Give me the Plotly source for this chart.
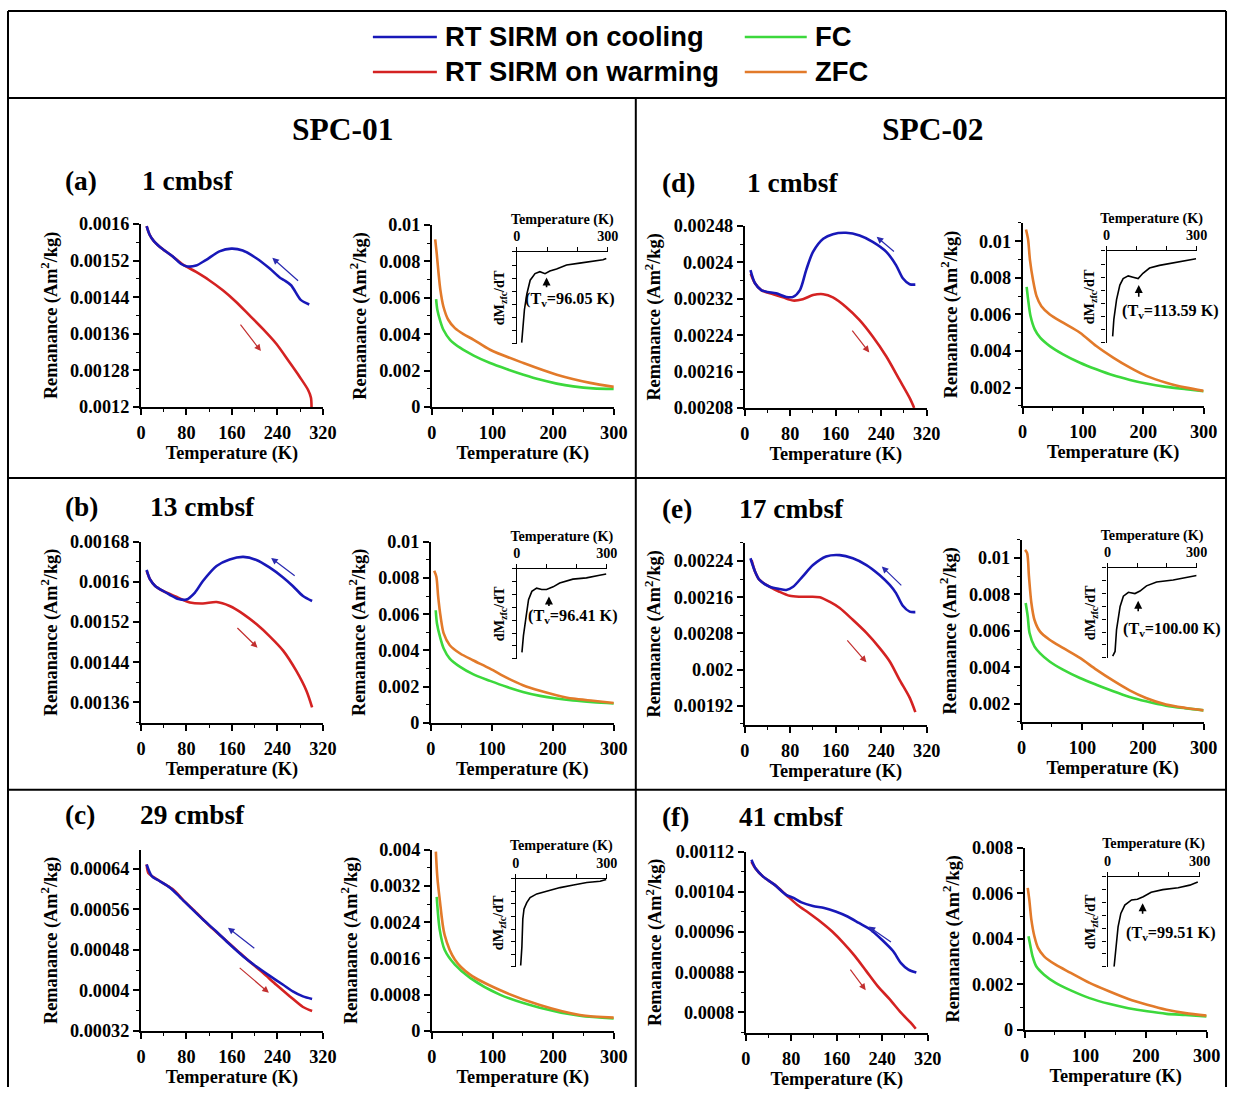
import plotly.graph_objects as go

W, H = 1241, 1097          # figure size = reference picture size
# measured placement of the figure inside the final photo: out = S * fig + OFF
SX, SY = 0.985, 0.982
OX, OY = 5.0, 10.0
FS = 1 / SX                # font compensation
SERIF = "Liberation Serif, Times New Roman, DejaVu Serif, serif"
SANS_N = "Liberation Sans Narrow, Arial Narrow, Liberation Sans, Arial, sans-serif"
BLUE, RED, GREEN, ORANGE = "#1818b8", "#d42222", "#3cd83c", "#e27a2a"

# ---------------- data ----------------
LEGEND_NAMES = ["RT SIRM on cooling", "RT SIRM on warming", "FC", "ZFC"]
CORE_TITLES = ["SPC-01", "SPC-02"]
PANEL_LETTERS = ["(a)", "(b)", "(c)", "(d)", "(e)", "(f)"]
PANEL_DEPTHS = ["1 cmbsf", "13 cmbsf", "29 cmbsf", "1 cmbsf", "17 cmbsf", "41 cmbsf"]
TV_VALUES = [96.05, 96.41, None, 113.59, 100.00, 99.51]

# (a) SPC-01 1 cmbsf
A_COOL_T = [296, 281, 264, 252, 244, 226, 203, 179, 159, 138, 114, 97, 82, 70, 56, 38, 23, 15, 10]
A_COOL_M = [0.001424, 0.001434, 0.001466, 0.001477, 0.001483, 0.001503, 0.001525, 0.001542, 0.001546, 0.001540,
            0.001521, 0.001509, 0.001507, 0.001513, 0.001529, 0.001545, 0.001562, 0.001577, 0.001595]
A_WARM_T = [10, 15, 23, 38, 56, 73, 97, 120, 144, 167, 191, 214, 238, 261, 279, 294, 299, 300]
A_WARM_M = [0.001595, 0.001577, 0.001562, 0.001545, 0.001529, 0.001512, 0.001495, 0.001477, 0.001455, 0.00143,
            0.0014, 0.001371, 0.001338, 0.001298, 0.001266, 0.001237, 0.00122, 0.0012]
A_ZFC_T = [5.5, 8, 11, 14, 19, 27, 38, 52, 69, 96, 151, 206, 261, 300]
A_ZFC_M = [0.00921, 0.00844, 0.00735, 0.00643, 0.00552, 0.00479, 0.00433, 0.0040, 0.00369, 0.00314, 0.00241,
           0.00177, 0.00132, 0.0011]
A_FC_T = [7, 9, 14, 19, 30, 47, 69, 96, 123, 151, 178, 206, 233, 266, 300]
A_FC_M = [0.00592, 0.00534, 0.0047, 0.00424, 0.00369, 0.00324, 0.00282, 0.00241, 0.00208, 0.00177, 0.0015,
          0.00128, 0.00113, 0.00102, 0.00099]
A_DER_T = [16, 20, 25, 33, 44, 60, 76, 93, 109, 131, 164, 207, 251, 284, 295]
A_DER_V = [0.1, 1.3, 2.6, 3.8, 4.85, 5.35, 5.5, 5.35, 5.55, 5.7, 6.0, 6.15, 6.3, 6.4, 6.5]

# (b) SPC-01 13 cmbsf
B_COOL_T = [301, 285, 267, 250, 226, 203, 180, 156, 133, 109, 95, 80, 66, 50, 39, 25, 16, 10]
B_COOL_M = [0.001562, 0.001572, 0.001592, 0.001609, 0.001629, 0.001644, 0.00165, 0.001645, 0.001632, 0.001602,
            0.001579, 0.001565, 0.001566, 0.001575, 0.001582, 0.001592, 0.001605, 0.001624]
B_WARM_T = [10, 16, 25, 39, 63, 86, 109, 133, 156, 180, 203, 226, 250, 273, 291, 301]
B_WARM_M = [0.001622, 0.001605, 0.001592, 0.001582, 0.00157, 0.001559, 0.001557, 0.00156, 0.001552, 0.001536,
            0.001516, 0.001492, 0.001463, 0.001423, 0.001383, 0.00135]
B_ZFC_T = [5.5, 9, 12, 16, 21, 31, 48, 69, 97, 124, 151, 179, 206, 233, 266, 300]
B_ZFC_M = [0.0084, 0.00807, 0.00696, 0.00586, 0.00494, 0.00429, 0.00383, 0.00346, 0.003, 0.0025, 0.00208,
           0.00177, 0.00153, 0.00134, 0.00122, 0.0011]
B_FC_T = [8, 10, 15, 21, 31, 48, 69, 97, 124, 151, 179, 206, 233, 266, 300]
B_FC_M = [0.00622, 0.00549, 0.00475, 0.00411, 0.00355, 0.00309, 0.00269, 0.00232, 0.00199, 0.00171, 0.00149,
          0.00134, 0.00123, 0.00114, 0.00107]
B_DER_T = [17, 22, 31, 39, 50, 66, 83, 99, 121, 143, 187, 232, 276, 298]
B_DER_V = [0.5, 1.8, 3.3, 4.6, 5.25, 5.5, 5.4, 5.4, 5.6, 5.9, 6.2, 6.3, 6.5, 6.6]

# (c) SPC-01 29 cmbsf
C_COOL_T = [301, 285, 267, 250, 226, 203, 180, 156, 133, 109, 86, 68, 51, 33, 19, 10]
C_COOL_M = [0.000383, 0.000388, 0.000398, 0.000411, 0.000429, 0.000447, 0.000467, 0.000491, 0.000516, 0.00054,
            0.000565, 0.000585, 0.000603, 0.000616, 0.000626, 0.000649]
C_WARM_T = [10, 13, 22, 39, 57, 74, 98, 121, 145, 168, 191, 215, 238, 262, 285, 301]
C_WARM_M = [0.000649, 0.000632, 0.000624, 0.000612, 0.000599, 0.000579, 0.000553, 0.000527, 0.000503, 0.00048,
            0.000457, 0.000434, 0.000411, 0.000388, 0.000367, 0.000359]
C_ZFC_T = [6.6, 9, 13, 21, 38, 63, 112, 178, 244, 300]
C_ZFC_M = [0.00396, 0.0034, 0.0029, 0.00212, 0.00157, 0.00124, 0.0009, 0.00057, 0.00035, 0.00029]
C_FC_T = [8, 13, 21, 38, 63, 112, 178, 244, 300]
C_FC_M = [0.00296, 0.00223, 0.00179, 0.00146, 0.00117, 0.0008, 0.00051, 0.00033, 0.00027]
C_DER_T = [16, 20, 23, 27, 36, 47, 69, 102, 146, 190, 234, 278, 298]
C_DER_V = [0.1, 1.6, 3.8, 4.6, 5.1, 5.5, 5.8, 6.0, 6.3, 6.5, 6.7, 6.8, 6.95]

# (d) SPC-02 1 cmbsf
D_COOL_T = [300, 290, 278, 266, 249, 225, 202, 178, 155, 138, 120, 108, 97, 85, 73, 55, 40, 29, 18, 10]
D_COOL_M = [0.002351, 0.002352, 0.002365, 0.002394, 0.002423, 0.002445, 0.002459, 0.002465, 0.002462, 0.002452,
            0.002423, 0.002383, 0.002339, 0.002324, 0.002324, 0.002332, 0.002335, 0.002339, 0.002354, 0.002383]
D_WARM_T = [10.5, 18, 29, 50, 67, 85, 102, 120, 138, 155, 178, 202, 225, 249, 272, 290, 298]
D_WARM_M = [0.002375, 0.002354, 0.002339, 0.00233, 0.002323, 0.002316, 0.002319, 0.002328, 0.00233, 0.002323,
            0.002302, 0.002273, 0.002237, 0.002193, 0.002142, 0.002102, 0.00208]
D_ZFC_T = [5.5, 9, 12, 17, 23, 31, 45, 67, 95, 122, 150, 178, 205, 238, 271, 300]
D_ZFC_M = [0.01064, 0.01009, 0.009, 0.00791, 0.007, 0.00645, 0.006, 0.00555, 0.005, 0.00427, 0.00364, 0.00309,
           0.00264, 0.00227, 0.002, 0.00182]
D_FC_T = [6.6, 9, 13, 20, 29, 45, 67, 95, 122, 150, 178, 205, 238, 271, 300]
D_FC_M = [0.00751, 0.00682, 0.00591, 0.00518, 0.00473, 0.00427, 0.00382, 0.00336, 0.003, 0.00267, 0.00242,
          0.00222, 0.00204, 0.00191, 0.0018]
D_DER_T = [20, 24, 33, 44, 55, 72, 88, 105, 121, 143, 176, 221, 265, 298]
D_DER_V = [0.5, 1.8, 3.3, 4.4, 4.9, 5.1, 5.0, 4.9, 5.3, 5.7, 5.9, 6.1, 6.25, 6.4]

# (e) SPC-02 17 cmbsf
E_COOL_T = [300, 290, 278, 266, 255, 237, 214, 190, 167, 143, 120, 102, 85, 73, 61, 44, 26, 18, 10]
E_COOL_M = [0.002127, 0.002128, 0.002141, 0.002169, 0.002187, 0.002209, 0.002231, 0.002246, 0.002253, 0.00225,
            0.002231, 0.002206, 0.002183, 0.002176, 0.002178, 0.002183, 0.002198, 0.002217, 0.002246]
E_WARM_T = [12, 18, 26, 44, 61, 79, 97, 114, 132, 149, 167, 190, 214, 237, 255, 272, 290, 300]
E_WARM_M = [0.002242, 0.002217, 0.002198, 0.002183, 0.002172, 0.002163, 0.002161, 0.002161, 0.00216, 0.00215,
            0.002136, 0.00211, 0.002081, 0.002048, 0.002018, 0.001978, 0.001938, 0.001906]
E_ZFC_T = [5.5, 9, 12, 16, 21, 30, 46, 68, 96, 123, 151, 178, 205, 238, 271, 300]
E_ZFC_M = [0.01045, 0.01027, 0.00899, 0.00753, 0.00661, 0.00597, 0.00551, 0.00506, 0.00451, 0.00387, 0.00326,
           0.00273, 0.00231, 0.00195, 0.00176, 0.00163]
E_FC_T = [6.6, 10, 13, 21, 30, 46, 68, 96, 123, 151, 178, 205, 238, 271, 300]
E_FC_M = [0.00753, 0.00679, 0.00588, 0.00515, 0.00478, 0.00432, 0.00387, 0.00341, 0.00304, 0.00268, 0.00237,
          0.00213, 0.00189, 0.00174, 0.00163]
E_DER_T = [17, 25, 30, 42, 53, 70, 92, 109, 131, 165, 221, 266, 300]
E_DER_V = [0.13, 0.5, 2.2, 4.0, 4.8, 5.1, 5.0, 5.2, 5.6, 5.9, 6.05, 6.25, 6.4]

# (f) SPC-02 41 cmbsf
F_COOL_T = [300, 286, 273, 259, 239, 219, 199, 179, 158, 138, 118, 98, 84, 71, 51, 30, 17, 10]
F_COOL_M = [0.000879, 0.000885, 0.000898, 0.000922, 0.000945, 0.000965, 0.000978, 0.000991, 0.001001, 0.001008,
            0.001012, 0.001019, 0.001028, 0.001034, 0.001054, 0.001071, 0.001087, 0.001104]
F_WARM_T = [10, 17, 30, 51, 71, 91, 111, 131, 152, 172, 192, 212, 232, 253, 273, 290, 299]
F_WARM_M = [0.0011, 0.001087, 0.001071, 0.001054, 0.001034, 0.001014, 0.000998, 0.000981, 0.000961, 0.000938,
            0.000912, 0.000882, 0.000852, 0.000826, 0.000799, 0.000779, 0.000767]
F_ZFC_T = [5, 7.6, 11, 16, 22, 32, 51, 76, 107, 139, 171, 202, 234, 265, 300]
F_ZFC_M = [0.00624, 0.00572, 0.00484, 0.00411, 0.0036, 0.00323, 0.00286, 0.0025, 0.00206, 0.00169, 0.00135,
           0.0011, 0.00088, 0.00073, 0.00062]
F_FC_T = [6.3, 9.5, 13, 19, 32, 51, 76, 107, 139, 171, 202, 234, 265, 300]
F_FC_M = [0.00411, 0.00367, 0.00323, 0.00279, 0.00242, 0.00206, 0.00173, 0.00139, 0.00114, 0.00095, 0.00081,
          0.0007, 0.00065, 0.00059]
F_DER_T = [21, 28, 34, 43, 56, 78, 97, 116, 142, 180, 230, 268, 294]
F_DER_V = [0.0, 1.55, 3.1, 4.15, 4.8, 5.2, 5.25, 5.45, 5.8, 6.0, 6.15, 6.35, 6.6]

# y tick values of the left (SIRM) and right (FC/ZFC) panels
A_L_YTICKS = [0.0012, 0.00128, 0.00136, 0.00144, 0.00152, 0.0016]
B_L_YTICKS = [0.00136, 0.00144, 0.00152, 0.0016, 0.00168]
C_L_YTICKS = [0.00032, 0.0004, 0.00048, 0.00056, 0.00064]
D_L_YTICKS = [0.00208, 0.00216, 0.00224, 0.00232, 0.0024, 0.00248]
E_L_YTICKS = [0.00192, 0.002, 0.00208, 0.00216, 0.00224]
F_L_YTICKS = [0.0008, 0.00088, 0.00096, 0.00104, 0.00112]
A_R_YTICKS = [0, 0.002, 0.004, 0.006, 0.008, 0.01]
B_R_YTICKS = [0, 0.002, 0.004, 0.006, 0.008, 0.01]
C_R_YTICKS = [0, 0.0008, 0.0016, 0.0024, 0.0032, 0.004]
D_R_YTICKS = [0.002, 0.004, 0.006, 0.008, 0.01]
E_R_YTICKS = [0.002, 0.004, 0.006, 0.008, 0.01]
F_R_YTICKS = [0, 0.002, 0.004, 0.006, 0.008]
L_XTICKS = [0, 80, 160, 240, 320]
R_XTICKS = [0, 100, 200, 300]
INSET_XLABELS = [0, 300]
INSET_XMINOR = [100, 200]

# ---------------- layout geometry (reference pixels) ----------------
GEOM = [
    dict(L=(141, 323, 224, 407), Lr=(0.0012, 0.0016), R=(432, 614, 225, 407), Rr=(0, 0.01), I=(517, 608, 252, 344)),
    dict(L=(141, 323, 542, 723), Lr=(0.001319, 0.00168), R=(431, 614, 542, 723), Rr=(0, 0.01), I=(517, 607, 569, 659)),
    dict(L=(141, 323, 850, 1031), Lr=(0.00032, 0.000678), R=(432, 614, 850, 1031), Rr=(0, 0.004), I=(516, 607, 879, 967)),
    dict(L=(745, 927, 226, 408), Lr=(0.00208, 0.00248), R=(1023, 1204, 223, 406), Rr=(0.001, 0.011), I=(1107, 1197, 251, 343)),
    dict(L=(745, 927, 543, 725), Lr=(0.001878, 0.00228), R=(1022, 1204, 540, 722), Rr=(0.001, 0.011), I=(1108, 1197, 568, 658)),
    dict(L=(746, 928, 852, 1033), Lr=(0.000759, 0.00112), R=(1025, 1207, 848, 1030), Rr=(0, 0.008), I=(1108, 1200, 877, 967)),
]
LABEL_POS = [(63, 140, 181), (63, 148, 507), (63, 138, 815), (660, 745, 183), (660, 737, 509), (660, 737, 817)]
BLUE_ARROWS = [(279, 0.001473, 231, 0.001526), (273, 0.00161, 229, 0.001648), (202, 0.000481, 153, 0.000524),
               (265, 0.002421, 232, 0.002456), (278, 0.002183, 241, 0.002228), (258, 0.000938, 216, 0.000971)]
RED_ARROWS = [(173, 0.001383, 211, 0.001322), (167, 0.001511, 205, 0.001469), (171, 0.000447, 225, 0.000395),
              (187, 0.002253, 219, 0.002202), (178, 0.002068, 214, 0.002016), (182, 0.000888, 211, 0.000844)]
TV_ARROWS = [(98, 4.2, 5.05, 175, 3.35), (107, 4.0, 4.85, 187, 3.3), None,
             (107, 3.4, 4.4, 213, 2.4), (103, 3.5, 4.45, 216, 2.2), (114, 4.0, 4.95, 205, 2.6)]

PANELS = [
    (A_COOL_T, A_COOL_M, A_WARM_T, A_WARM_M, A_FC_T, A_FC_M, A_ZFC_T, A_ZFC_M, A_DER_T, A_DER_V, A_L_YTICKS, A_R_YTICKS),
    (B_COOL_T, B_COOL_M, B_WARM_T, B_WARM_M, B_FC_T, B_FC_M, B_ZFC_T, B_ZFC_M, B_DER_T, B_DER_V, B_L_YTICKS, B_R_YTICKS),
    (C_COOL_T, C_COOL_M, C_WARM_T, C_WARM_M, C_FC_T, C_FC_M, C_ZFC_T, C_ZFC_M, C_DER_T, C_DER_V, C_L_YTICKS, C_R_YTICKS),
    (D_COOL_T, D_COOL_M, D_WARM_T, D_WARM_M, D_FC_T, D_FC_M, D_ZFC_T, D_ZFC_M, D_DER_T, D_DER_V, D_L_YTICKS, D_R_YTICKS),
    (E_COOL_T, E_COOL_M, E_WARM_T, E_WARM_M, E_FC_T, E_FC_M, E_ZFC_T, E_ZFC_M, E_DER_T, E_DER_V, E_L_YTICKS, E_R_YTICKS),
    (F_COOL_T, F_COOL_M, F_WARM_T, F_WARM_M, F_FC_T, F_FC_M, F_ZFC_T, F_ZFC_M, F_DER_T, F_DER_V, F_L_YTICKS, F_R_YTICKS),
]


def fx(c):
    """reference pixel -> figure pixel (x)"""
    return (c - OX) / SX


def fy(c):
    return (c - OY) / SY


def pxx(c):
    return fx(c) / W


def pyy(c):
    return 1 - fy(c) / H


def fsz(s):
    return round(s * FS, 1)


def fmt(v):
    return f"{v:.5f}".rstrip("0").rstrip(".")


def minors(ticks, lo, hi):
    step = ticks[1] - ticks[0]
    vals = []
    k = -2
    while True:
        v = ticks[0] + (k + 0.5) * step
        if v > hi + 1e-12:
            break
        if v >= lo - 1e-12:
            vals.append(round(v, 8))
        k += 1
    return vals


def sfx(n):
    return "" if n == 1 else str(n)


TICKFONT = dict(family=SERIF, size=fsz(18), color="black", weight="bold")
TITLEFONT = dict(family=SERIF, size=fsz(18), color="black", weight="bold")
INSFONT = dict(family=SERIF, size=fsz(14), color="black", weight="bold")

fig = go.Figure()
layout = {}
annotations = []
shapes = []


def main_axes(n, box, xr, xt, yr, yt):
    x0, x1, y0, y1 = box
    s = sfx(n)
    layout["xaxis" + s] = dict(
        domain=[pxx(x0), pxx(x1)], range=list(xr), anchor="y" + s,
        showline=True, linecolor="black", linewidth=1.8, mirror=False,
        ticks="outside", ticklen=6, tickwidth=1.5, tickcolor="black",
        tickmode="array", tickvals=xt, ticktext=[str(t) for t in xt],
        minor=dict(tickmode="array", tickvals=minors(xt, xr[0], xr[1]), ticks="outside",
                   ticklen=3, tickwidth=1.3, tickcolor="black"),
        showgrid=False, zeroline=False, tickfont=TICKFONT, ticklabelstandoff=2,
        title=dict(text="Temperature (K)", font=TITLEFONT, standoff=3), fixedrange=True)
    layout["yaxis" + s] = dict(
        domain=[pyy(y1), pyy(y0)], range=list(yr), anchor="x" + s,
        showline=True, linecolor="black", linewidth=1.8,
        ticks="outside", ticklen=6, tickwidth=1.5, tickcolor="black",
        tickmode="array", tickvals=yt, ticktext=[fmt(t) for t in yt],
        minor=dict(tickmode="array", tickvals=minors(yt, yr[0], yr[1]), ticks="outside",
                   ticklen=3, tickwidth=1.3, tickcolor="black"),
        showgrid=False, zeroline=False, tickfont=TICKFONT,
        title=dict(text="Remanance (Am<sup>2</sup>/kg)", font=TITLEFONT, standoff=8), fixedrange=True)


def inset_axes(n, box):
    x0, x1, y0, y1 = box
    s = sfx(n)
    layout["xaxis" + s] = dict(
        domain=[pxx(x0), pxx(x1)], range=[0, 300], anchor="y" + s, side="top",
        showline=True, linecolor="black", linewidth=1.4,
        ticks="outside", ticklen=4, tickwidth=1.2, tickcolor="black",
        tickmode="array", tickvals=INSET_XLABELS, ticktext=[str(t) for t in INSET_XLABELS],
        minor=dict(tickmode="array", tickvals=INSET_XMINOR, ticks="outside", ticklen=4,
                   tickwidth=1.2, tickcolor="black"),
        showgrid=False, zeroline=False, tickfont=INSFONT, ticklabelstandoff=0,
        title=dict(text="Temperature (K)", font=INSFONT, standoff=0), fixedrange=True)
    layout["yaxis" + s] = dict(
        domain=[pyy(y1), pyy(y0)], range=[0, 7], anchor="x" + s,
        showline=True, linecolor="black", linewidth=1.4,
        ticks="outside", ticklen=4, tickwidth=1.2, tickcolor="black",
        tickmode="array", tickvals=list(range(8)), showticklabels=False,
        showgrid=False, zeroline=False,
        title=dict(text="dM<sub>zfc</sub>/dT", font=INSFONT, standoff=3), fixedrange=True)


def line(x, y, n, color, width=2.6, shape="spline"):
    s = sfx(n)
    fig.add_trace(go.Scatter(x=x, y=y, mode="lines", xaxis="x" + s, yaxis="y" + s,
                             line=dict(color=color, width=width, shape=shape, smoothing=0.8),
                             showlegend=False, hoverinfo="skip"))


for i, (ct, cm, wt, wm, ft, fm, zt, zm, dt, dv, lyt, ryt) in enumerate(PANELS):
    g = GEOM[i]
    nL, nR, nI = 3 * i + 1, 3 * i + 2, 3 * i + 3
    main_axes(nL, g["L"], (0, 320), L_XTICKS, g["Lr"], lyt)
    main_axes(nR, g["R"], (0, 300), R_XTICKS, g["Rr"], ryt)
    inset_axes(nI, g["I"])
    line(wt, wm, nL, RED)
    line(ct, cm, nL, BLUE)
    line(ft, fm, nR, GREEN)
    line(zt, zm, nR, ORANGE)
    line(dt, dv, nI, "black", width=1.6, shape="linear")

    sL = sfx(nL)
    for (tx, ty, hx, hy), col in ((BLUE_ARROWS[i], "#2a2ab0"), (RED_ARROWS[i], "#c23030")):
        annotations.append(dict(x=hx, y=hy, ax=tx, ay=ty, xref="x" + sL, yref="y" + sL,
                                axref="x" + sL, ayref="y" + sL, text="", showarrow=True,
                                arrowhead=2, arrowsize=1.1, arrowwidth=1.2, arrowcolor=col))
    if TV_ARROWS[i] is not None:
        sI = sfx(nI)
        t, ya, yh, tt, tyy = TV_ARROWS[i]
        annotations.append(dict(x=t, y=yh, ax=t, ay=ya, xref="x" + sI, yref="y" + sI,
                                axref="x" + sI, ayref="y" + sI, text="", showarrow=True,
                                arrowhead=2, arrowsize=1.0, arrowwidth=1.6, arrowcolor="black"))
        annotations.append(dict(x=tt, y=tyy, xref="x" + sI, yref="y" + sI, showarrow=False,
                                text=f"(T<sub>v</sub>={TV_VALUES[i]:.2f} K)",
                                font=dict(family=SERIF, size=fsz(16), color="black", weight="bold"),
                                xanchor="center", yanchor="middle"))
    lx, dx, ly = LABEL_POS[i]
    annotations.append(dict(x=pxx(lx), y=pyy(ly), xref="paper", yref="paper", showarrow=False,
                            text=PANEL_LETTERS[i], xanchor="left", yanchor="middle",
                            font=dict(family=SERIF, size=fsz(27), color="black", weight="bold")))
    annotations.append(dict(x=pxx(dx), y=pyy(ly), xref="paper", yref="paper", showarrow=False,
                            text=PANEL_DEPTHS[i], xanchor="left", yanchor="middle",
                            font=dict(family=SERIF, size=fsz(27), color="black", weight="bold")))

for txt, cx in zip(CORE_TITLES, (343, 933)):
    annotations.append(dict(x=pxx(cx), y=pyy(130), xref="paper", yref="paper", showarrow=False,
                            text=txt, xanchor="center", yanchor="middle",
                            font=dict(family=SERIF, size=fsz(31), color="black", weight="bold")))

LEG = [(LEGEND_NAMES[0], BLUE, 373, 437, 37), (LEGEND_NAMES[1], RED, 373, 437, 72),
       (LEGEND_NAMES[2], GREEN, 745, 807, 37), (LEGEND_NAMES[3], ORANGE, 745, 807, 72)]
for name, col, lx0, lx1, ly in LEG:
    shapes.append(dict(type="line", xref="paper", yref="paper", x0=pxx(lx0), x1=pxx(lx1),
                       y0=pyy(ly), y1=pyy(ly), line=dict(color=col, width=2.5)))
    annotations.append(dict(x=pxx(lx1 + 6), y=pyy(ly), xref="paper", yref="paper", showarrow=False,
                            text=name, xanchor="left", yanchor="middle",
                            font=dict(family=SANS_N, size=fsz(27), color="black", weight="bold")))

# frame lines (figure pixels clamped to the drawable area)
BORD = dict(color="black", width=2)
XL, XR, YT, YB = max(fx(8), 1.0), min(fx(1239), W - 1.0), max(fy(6), 1.0), H
XM, Y1, Y2, Y3 = fx(636), fy(98), fy(478), fy(790)
for (x0, y0, x1, y1) in [(XL, YT, XR, YT), (XL, YT, XL, YB), (XR, YT, XR, YB), (XL, Y1, XR, Y1),
                         (XM, Y1, XM, YB), (XL, Y2, XR, Y2), (XL, Y3, XR, Y3)]:
    shapes.append(dict(type="line", xref="paper", yref="paper", x0=x0 / W, x1=x1 / W,
                       y0=1 - y0 / H, y1=1 - y1 / H, line=BORD))

fig.update_layout(width=W, height=H, margin=dict(l=0, r=0, t=0, b=0), autosize=False,
                  paper_bgcolor="white", plot_bgcolor="rgba(0,0,0,0)",
                  annotations=annotations, shapes=shapes, showlegend=False, **layout)

fig.write_html("out.html")
